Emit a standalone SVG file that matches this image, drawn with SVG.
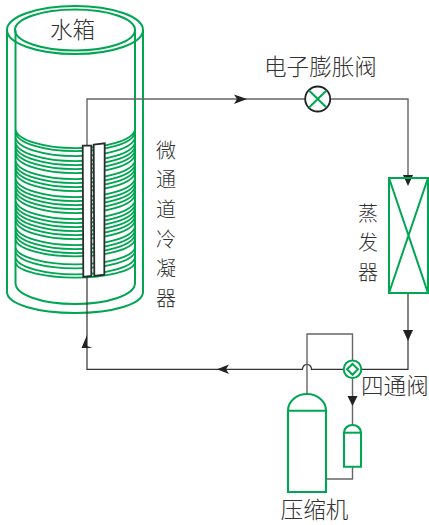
<svg xmlns="http://www.w3.org/2000/svg" width="429" height="525" viewBox="0 0 429 525">
<style>
.g{fill:none;stroke:#00a651;stroke-width:2}
.c{fill:none;stroke:#00a651;stroke-width:1.8}
.w{fill:#fff;stroke:#00a651;stroke-width:2.1}
.k{fill:none;stroke:#333;stroke-width:1.2}
.y{fill:none;stroke:#666;stroke-width:1.4}
.a{fill:#222;stroke:none}
.ch{fill:#fff;stroke:#2b2b2b;stroke-width:1.8}
text{font-family:"Noto Sans CJK SC","Noto Sans CJK JP",sans-serif;font-size:22.6px;fill:#333;font-weight:300}
.m{text-anchor:middle}
.v{font-size:20px}
</style>
<rect width="429" height="525" fill="#fff"/>
<g id="tank">
<path class="g" d="M7 30V292C7 304 37 313 75 313S143 304 143 292V30"/>
<path class="g" d="M15.5 30V283C15.5 295 42 304 75 304S135 295 135 283V30"/>
<ellipse class="g" cx="75" cy="30" rx="68" ry="24"/>
<ellipse class="g" cx="75" cy="30" rx="60" ry="20.5"/>
<text class="m" x="72.5" y="38">水箱</text>
</g>
<g id="coil">
<path class="c" d="M15.5 130A60 20 0 0 0 135 130M15.5 133A60 20 0 0 0 135 133M15.5 138A60 20 0 0 0 135 138M15.5 143A60 20 0 0 0 135 143M15.5 147A60 20 0 0 0 135 147M15.5 151A60 20 0 0 0 135 151M15.5 155A60 20 0 0 0 135 155M15.5 161A60 20 0 0 0 135 161M15.5 165A60 20 0 0 0 135 165M15.5 169A60 20 0 0 0 135 169M15.5 173A60 20 0 0 0 135 173M15.5 179A60 20 0 0 0 135 179M15.5 183A60 20 0 0 0 135 183M15.5 187A60 20 0 0 0 135 187M15.5 191A60 20 0 0 0 135 191M15.5 195A60 20 0 0 0 135 195M15.5 201A60 20 0 0 0 135 201M15.5 205A60 20 0 0 0 135 205M15.5 209A60 20 0 0 0 135 209M15.5 213A60 20 0 0 0 135 213M15.5 217A60 20 0 0 0 135 217M15.5 221A60 20 0 0 0 135 221M15.5 227A60 20 0 0 0 135 227M15.5 231A60 20 0 0 0 135 231M15.5 235A60 20 0 0 0 135 235M15.5 240A60 18 0 0 0 135 240M15.5 248A60 18 0 0 0 135 248M15.5 252A60 18 0 0 0 135 252M15.5 258A60 18 0 0 0 135 258M15.5 263A60 16 0 0 0 135 263"/>
</g>
<g id="connectors">
<path class="y" d="M87 145V99H305"/>
<path class="y" d="M330 99H408V176"/>
<path class="k" d="M408 293V369.3H361"/>
<path class="k" d="M343 369.3H311.5A4.5 5 0 0 0 302.5 369.3H87V277"/>
<path class="y" d="M307 394V334H352.5V360"/>
<path class="y" d="M352.5 378V425"/>
<path class="y" d="M326 479H352.5V467"/>
<polygon class="a" points="234,94.5 247,99 234,104 237,99"/>
<polygon class="a" points="403,175 413,175 408,186"/>
<polygon class="a" points="403,330 413,330 408,341"/>
<polygon class="a" points="229,364.5 217,369.3 229,374 226,369.3"/>
<polygon class="a" points="87,335 81.5,348 92.5,348 87,346"/>
<polygon class="a" points="347.5,396 357.5,396 352.5,406"/>
</g>
<g id="microchannel">
<polygon class="ch" points="82.7,145.7 91.3,145.7 91.3,276 83.3,277"/>
<polygon class="ch" points="93.7,144.7 104.7,143.3 104.3,274.7 94.3,276"/>
<text class="m v"><tspan x="166" y="157.5">微</tspan><tspan x="166" y="187.2">通</tspan><tspan x="166" y="216.9">道</tspan><tspan x="166" y="246.6">冷</tspan><tspan x="166" y="276.3">凝</tspan><tspan x="166" y="306">器</tspan></text>
</g>
<g id="expansion-valve">
<circle cx="317.7" cy="99" r="12.5" fill="#fff" stroke="#222" stroke-width="1.8"/>
<path class="g" d="M309 90.5L326.5 107.5M326.5 90.5L309 107.5"/>
<text x="264" y="75">电子膨胀阀</text>
</g>
<g id="evaporator">
<rect class="g" x="389" y="178" width="39" height="115"/>
<path class="g" d="M389 178L428 293M428 178L389 293"/>
<text class="m v"><tspan x="368" y="220.5">蒸</tspan><tspan x="368" y="250">发</tspan><tspan x="368" y="279.5">器</tspan></text>
</g>
<g id="four-way-valve">
<circle cx="352.5" cy="369.3" r="8.8" fill="#fff" stroke="#00a651" stroke-width="2"/>
<polygon class="g" points="352.5,364 358,369.3 352.5,374.8 347,369.3"/>
<text x="361" y="394">四通阀</text>
</g>
<g id="compressor">
<path class="w" d="M288 492V410.7C288 401 297 394 307 394S326 401 326 410.7V492Z"/>
<path class="g" d="M288 410.7H326"/>
<text class="m" x="314.5" y="518">压缩机</text>
</g>
<g id="separator">
<path class="w" d="M344 466.7V432.7C344 428 348 425 352.5 425S361 428 361 432.7V466.7Z"/>
<path class="g" d="M344 432.7H361"/>
</g>
</svg>
